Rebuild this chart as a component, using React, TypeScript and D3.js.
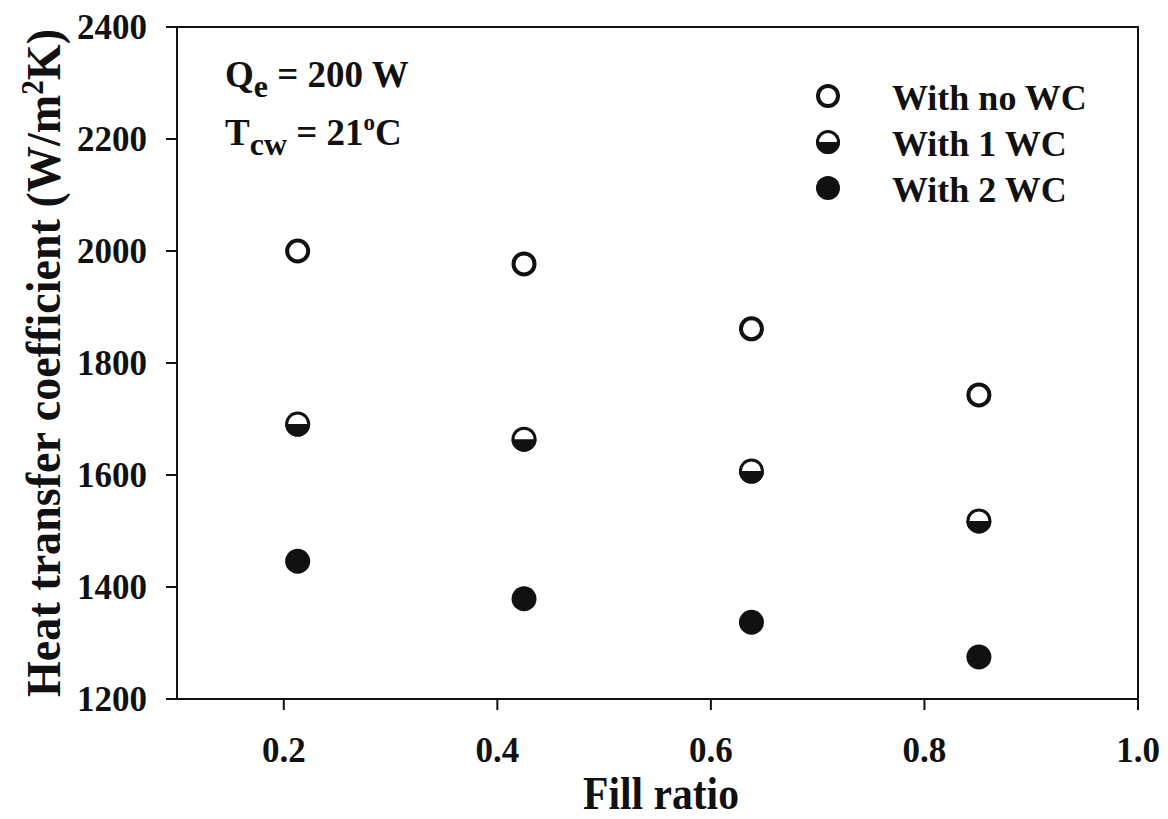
import React from "react";
import * as d3 from "d3";

const fillRatio = [0.213, 0.425, 0.638, 0.851];
const noWC = [2000, 1977, 1861, 1743];
const oneWC = [1691, 1664, 1607, 1518];
const twoWC = [1446, 1379, 1337, 1275];
const xTicks = [0.2, 0.4, 0.6, 0.8, 1.0];
const yTicks = [1200, 1400, 1600, 1800, 2000, 2200, 2400];
const legendLabels = ["With no WC", "With 1 WC", "With 2 WC"];

const W = 1168, H = 819;
const L = 177, R = 1138, T = 27, B = 699;
const FONT = "'Liberation Serif', 'Times New Roman', serif";

function Marker({ cx, cy, type, r = 12.5 }: { cx: number; cy: number; type: number; r?: number }) {
  if (type === 0) return <circle cx={cx} cy={cy} r={r - 2} fill="#fff" stroke="#111" strokeWidth={4} />;
  if (type === 2) return <circle cx={cx} cy={cy} r={r} fill="#111" />;
  const arc = `M${cx - r},${cy} A${r},${r} 0 0 0 ${cx + r},${cy} Z`;
  return (
    <g>
      <circle cx={cx} cy={cy} r={r - 1.5} fill="#fff" stroke="#111" strokeWidth={3} />
      <path d={arc} fill="#111" />
    </g>
  );
}

export default function App() {
  const x = d3.scaleLinear().domain([0.1, 1.0]).range([L, R]);
  const y = d3.scaleLinear().domain([1200, 2400]).range([B, T]);
  const series = [noWC, oneWC, twoWC];
  return (
    <svg width={W} height={H} style={{ position: "absolute", left: 0, top: 0 }} fontFamily={FONT} fontWeight="bold">
      <rect x={0} y={0} width={W} height={H} fill="#fff" />
      <rect x={L} y={T} width={R - L} height={B - T} fill="none" stroke="#111" strokeWidth={2} />
      {yTicks.map((t) => (
        <g key={t}>
          <line x1={L - 11} x2={L} y1={y(t)} y2={y(t)} stroke="#111" strokeWidth={2} />
          <text x={147} y={y(t) + 12} textAnchor="end" fontSize={35} fill="#111">{t}</text>
        </g>
      ))}
      {xTicks.map((t) => (
        <g key={t}>
          <line x1={x(t)} x2={x(t)} y1={B} y2={B + 11} stroke="#111" strokeWidth={2} />
          <text x={x(t)} y={762} textAnchor="middle" fontSize={35} fill="#111">{t.toFixed(1)}</text>
        </g>
      ))}
      <text x={661} y={809} textAnchor="middle" fontSize={46} textLength={156} lengthAdjust="spacingAndGlyphs" fill="#111">Fill ratio</text>
      <text transform={`translate(60,363) rotate(-90)`} textAnchor="middle" fontSize={49} fill="#111" textLength={668} lengthAdjust="spacingAndGlyphs">
        Heat transfer coefficient (W/m<tspan dy={-17} fontSize={31}>2</tspan><tspan dy={17}>K)</tspan>
      </text>
      {series.map((s, si) =>
        s.map((v, i) => <Marker key={`${si}-${i}`} cx={x(fillRatio[i])} cy={y(v)} type={si} />)
      )}
      {legendLabels.map((lab, i) => (
        <g key={lab}>
          <Marker cx={828} cy={96 + i * 46} type={i} r={12} />
          <text x={892} y={110 + i * 46} fontSize={36} fill="#111">{lab}</text>
        </g>
      ))}
      <text x={225} y={87} fontSize={37} fill="#111">
        Q<tspan dy={10} fontSize={32}>e</tspan><tspan dy={-10}> = 200 W</tspan>
      </text>
      <text x={225} y={145} fontSize={37} fill="#111">
        T<tspan dy={10} fontSize={32}>cw</tspan><tspan dy={-10}> = 21</tspan><tspan dy={-15} fontSize={23}>o</tspan><tspan dy={15}>C</tspan>
      </text>
    </svg>
  );
}
